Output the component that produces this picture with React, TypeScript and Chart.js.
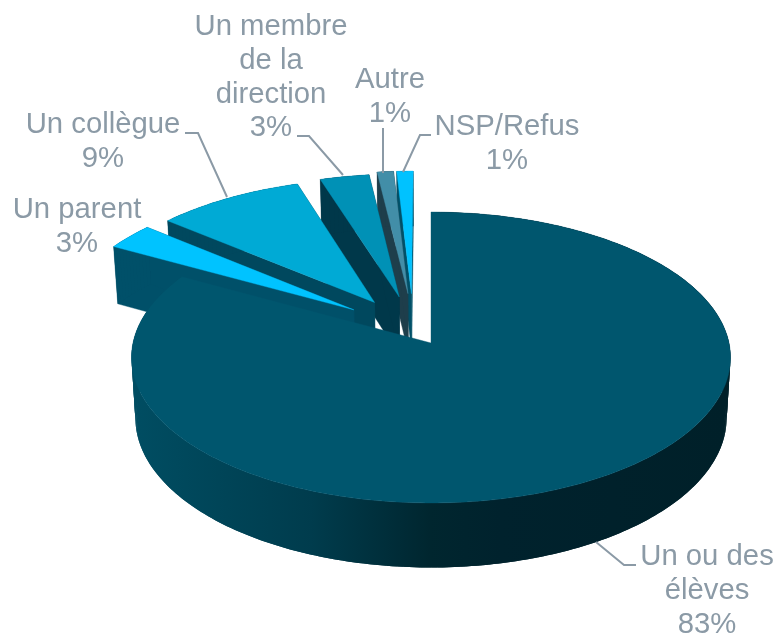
import React, { useEffect, useRef } from "react";
import { Chart, registerables } from "chart.js";

Chart.register(...registerables);

const categories = ["Un ou des\nélèves", "Un parent", "Un collègue", "Un membre\nde la\ndirection", "Autre", "NSP/Refus"];
const shares = [83, 3, 9, 3, 1, 1];

const topColors = ["#00566e", "#00c3ff", "#00aad5", "#0091b6", "#428ea8", "#00c2ff"];
const sideColors = ["#003c4d", "#005069", "#00485e", "#00384a", "#1e3e4b", "#005068"];
const explodeX = [0, -0.265, -0.195, -0.11, -0.08, -0.068];
const explodeY = [0, -0.236, -0.29, -0.33, -0.355, -0.355];
const paintOrder = [5, 4, 3, 2, 1, 0];

const labelX = [707, 77, 103, 271, 390, 507];
const labelY = [565, 218, 133, 35, 88, 135];
const leaders: number[][][] = [
  [[596, 542], [624, 565], [636, 565]],
  [],
  [[185, 133], [198, 133], [227, 197]],
  [[297, 136], [309, 136], [343, 175]],
  [[383, 128], [383, 173]],
  [[403, 172], [420, 135], [431, 135]],
];

const CX = 431, CY = 343, RX = 298, TILT = 144, PERSP = 0.0997, DEPTH = 60, SHRINK = 0.987;
const TEXT = "#8b9aa6";
const FONT = '29.3px "Liberation Sans", Arial, sans-serif';
const LINE = 33.8;

function project(x: number, y: number, bottom: boolean): [number, number] {
  const s = 1 / (1 - PERSP * y);
  const X = RX * x * s;
  const Y = TILT * y * s;
  return bottom ? [CX + X * SHRINK, CY + Y * SHRINK + DEPTH * s] : [CX + X, CY + Y];
}

function fillPoly(ctx: CanvasRenderingContext2D, pts: [number, number][], fill: string | CanvasGradient, stroke = true) {
  ctx.beginPath();
  pts.forEach((p, i) => (i ? ctx.lineTo(p[0], p[1]) : ctx.moveTo(p[0], p[1])));
  ctx.closePath();
  ctx.fillStyle = fill;
  ctx.fill();
  if (stroke) {
    ctx.strokeStyle = fill;
    ctx.lineWidth = 0.4;
    ctx.stroke();
  }
}

const pie3d = {
  id: "pie3d",
  beforeDatasetsDraw(chart: any) {
    const ctx: CanvasRenderingContext2D = chart.ctx;
    const arcs = chart.getDatasetMeta(0).data;
    const g = ctx.createLinearGradient(134, 0, 726, 0);
    g.addColorStop(0, "#004d62");
    g.addColorStop(0.3, "#003c4d");
    g.addColorStop(0.5, "#00262f");
    g.addColorStop(0.62, "#00222d");
    g.addColorStop(1, "#002029");
    for (const i of paintOrder) {
      const a0 = arcs[i].startAngle + Math.PI / 2;
      const a1 = arcs[i].endAngle + Math.PI / 2;
      const ox = explodeX[i], oy = explodeY[i];
      const pt = (a: number): [number, number] => [ox + Math.sin(a), oy - Math.cos(a)];
      const rim: [number, number][] = [];
      const n = Math.max(4, Math.ceil(((a1 - a0) * 180) / Math.PI));
      for (let k = 0; k <= n; k++) rim.push(pt(a0 + ((a1 - a0) * k) / n));
      const top = rim.map((p) => project(p[0], p[1], false));
      const bot = rim.map((p) => project(p[0], p[1], true));
      const apexT = project(ox, oy, false);
      const apexB = project(ox, oy, true);
      const side = i === 0 ? g : sideColors[i];
      if (i !== 0) {
        fillPoly(ctx, [apexT, top[0], bot[0], apexB], side);
        fillPoly(ctx, [apexT, top[n], bot[n], apexB], side);
      }
      for (let k = 0; k < n; k++) {
        const e = Math.min(n, k + 2);
        fillPoly(ctx, [top[k], top[k + 1], top[e], bot[e], bot[k + 1], bot[k]], side, false);
      }
      fillPoly(ctx, [apexT, ...top], topColors[i]);
    }
    ctx.save();
    ctx.strokeStyle = TEXT;
    ctx.lineWidth = 2;
    for (const l of leaders) {
      if (!l.length) continue;
      ctx.beginPath();
      l.forEach((p, k) => (k ? ctx.lineTo(p[0], p[1]) : ctx.moveTo(p[0], p[1])));
      ctx.stroke();
    }
    ctx.font = FONT;
    ctx.fillStyle = TEXT;
    ctx.textAlign = "center";
    ctx.textBaseline = "alphabetic";
    categories.forEach((c, i) => {
      const lines = [...c.split("\n"), `${shares[i]}%`];
      lines.forEach((t, k) => ctx.fillText(t, labelX[i], labelY[i] + k * LINE));
    });
    ctx.restore();
    return false;
  },
};

export default function App() {
  const ref = useRef<HTMLCanvasElement>(null);
  useEffect(() => {
    const chart = new Chart(ref.current!, {
      type: "pie",
      data: { labels: categories, datasets: [{ data: shares, backgroundColor: topColors, borderWidth: 0 }] },
      options: {
        animation: false,
        responsive: false,
        plugins: { legend: { display: false }, tooltip: { enabled: false } },
      },
      plugins: [pie3d],
    } as any);
    return () => chart.destroy();
  }, []);
  return (
    <canvas ref={ref} width={777} height={635} style={{ position: "fixed", left: 0, top: 0, display: "block" }} />
  );
}
